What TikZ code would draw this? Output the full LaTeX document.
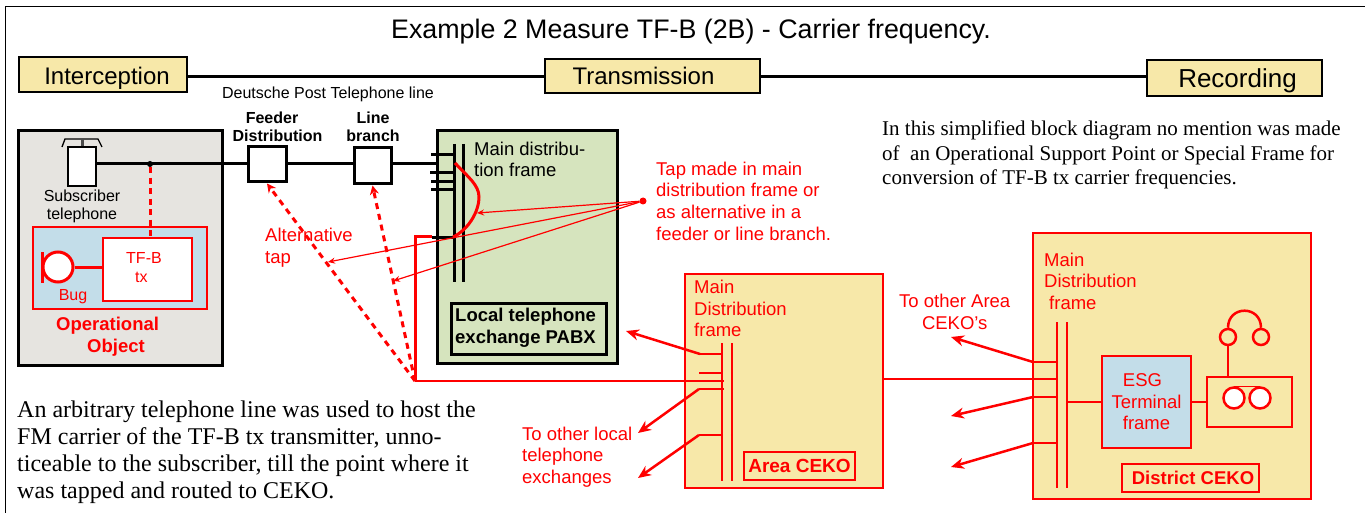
\documentclass[tikz,border=0pt]{standalone}
\usepackage{fontspec}
\setmainfont{Liberation Sans}
\newfontfamily\serifpara{Liberation Serif}
\usetikzlibrary{arrows.meta}
\definecolor{paleyellow}{HTML}{F7E8A9}
\definecolor{palegreen}{HTML}{D6E4BE}
\definecolor{palegray}{HTML}{E6E4E0}
\definecolor{paleblue}{HTML}{C3DDE9}
\tikzset{
	heading/.style={draw=black, line width=2.5pt, fill=paleyellow, inner sep=0pt, font=\fontsize{24}{28}\selectfont},
	blackbox/.style={draw=black, line width=3pt, inner sep=0pt},
	redbox/.style={draw=red, line width=2.5pt, inner sep=0pt},
	thinbox/.style={draw=red, line width=1.5pt, inner sep=0pt},
	label/.style={inner sep=0pt, align=left, anchor=west, font=\fontsize{18.5}{21.6}\selectfont},
	small/.style={inner sep=0pt, align=center, font=\fontsize{16}{18.5}\selectfont},
	boldlabel/.style={inner sep=0pt, align=left, font=\fontsize{18.5}{21.6}\selectfont\bfseries},
	wire/.style={line width=3pt},
	redwire/.style={draw=red, line width=2.5pt},
	bigarrow/.style={draw=red, line width=2.5pt, -{Stealth[length=13pt,width=11pt]}},
	thinarrow/.style={draw=red, line width=1.2pt, -{Stealth[length=7pt,width=6pt]}},
	dasharrow/.style={draw=red, line width=3pt, dashed, dash pattern=on 6pt off 5pt, -{Stealth[length=9pt,width=9pt]}},
}
\begin{document}
\begin{tikzpicture}[x=1pt,y=-1pt]
	\useasboundingbox (0,0) rectangle (1365,513);
	% Outer Frame %
	\draw [line width=1.5pt] (5.5,513) -- (5.5,6.5) -- (1365,6.5);
	\node (title) [inner sep=0pt, font=\fontsize{26.8}{31}\selectfont] at (691,32) {Example 2 Measure TF-B (2B) - Carrier frequency.};
	% Headings %
	\node (interception) [heading, minimum width=168, minimum height=35] at (103,74.5) {\rule{0pt}{24pt}\hspace*{8pt}Interception};
	\node (transmission) [heading, minimum width=215, minimum height=34] at (652.5,76) {Transmission\hspace*{18pt}};
	\node (recording) [heading, minimum width=175, minimum height=36, font=\fontsize{26}{30}\selectfont] at (1234.5,78) {\rule{0pt}{25pt}\hspace*{6pt}Recording};
	\coordinate (headline) at (0,77);
	\draw [wire] (interception.east |- headline) -- (transmission.west |- headline);
	\draw [wire] (transmission.east |- headline) -- (recording.west |- headline);
	\node (postline) [small] at (328,94) {Deutsche Post Telephone line};
	% Operational Object %
	\node (object) [blackbox, fill=palegray, minimum width=204, minimum height=234] at (120,248) {};
	\node (bugarea) [thinbox, fill=paleblue, minimum width=174, minimum height=82] at (120,268) {};
	\node (tfbtx) [thinbox, fill=white, minimum width=89, minimum height=63] at (147.5,269.5) {};
	\node (tfblabel) [small, align=left, text=red, anchor=west] at (126,267.5) {TF-B\\\hspace*{9pt}tx};
	\node (bug) [draw=red, line width=3pt, fill=white, circle, minimum size=30, inner sep=0pt] at (58,267) {};
	\draw [redwire, line width=3pt] (42,252) -- (42,283);
	\draw [redwire, line width=3pt] (bug) -- (tfbtx.west |- bug);
	\node (buglabel) [small, text=red] at (73,297) {Bug};
	\node (objectlabel) [boldlabel, text=red, anchor=west] at (56,337) {Operational\\\hspace*{31pt}Object};
	% Subscriber Telephone %
	\node (phone) [draw=black, line width=1.5pt, fill=white, minimum width=28, minimum height=39, inner sep=0pt] at (82,166.5) {};
	\draw [line width=1.3pt] (62,147) -- (65,139) -- (98,139) -- (102,147);
	\draw [line width=3pt, black!70] (82,139) -- (phone.north);
	\node (phonelabel) [small] at (82,206.5) {Subscriber\\telephone};
	% Telephone Line %
	\node (feeder) [blackbox, fill=white, minimum width=38, minimum height=35] at (267,164.5) {};
	\node (branch) [blackbox, fill=white, minimum width=37, minimum height=36] at (372.5,166) {};
	\node (feederlabel) [small, font=\fontsize{16}{18.5}\selectfont\bfseries] at (277.5,127) {Feeder\hspace*{11pt}\\Distribution};
	\node (branchlabel) [small, font=\fontsize{16}{18.5}\selectfont\bfseries] at (373,127) {Line\\branch};
	\coordinate (lineend) at (437,164);
	\draw [wire] (phone.east |- lineend) -- (feeder.west |- lineend);
	\draw [wire] (feeder.east |- lineend) -- (branch.west |- lineend);
	\draw [wire] (branch.east |- lineend) -- (lineend);
	\node (joint) [fill=black, circle, minimum size=6, inner sep=0pt] at (150,164) {};
	\draw [redwire, line width=3pt, dashed, dash pattern=on 6pt off 4.5pt] (joint) -- (tfbtx.north -| joint);
	% Local Exchange %
	\node (exchange) [blackbox, fill=palegreen, minimum width=180, minimum height=232] at (527,247) {};
	\draw [wire] (454,144) -- (454,282);
	\draw [wire] (463,144) -- (463,282);
	\draw [wire] (431,155) -- (454,155);
	\draw [wire] (430,173) -- (454,173);
	\draw [wire] (431,182) -- (454,182);
	\draw [wire] (431,190) -- (454,190);
	\draw [wire] (432,237) -- (454,237);
	\node (mdflocal) [label] at (474,159.5) {Main distribu-\\tion frame};
	\node (pabx) [blackbox, minimum width=155, minimum height=51] at (528.5,328.5) {};
	\node (pabxlabel) [boldlabel, anchor=west] at (455,328) {Local telephone\\exchange PABX};
	\draw [redwire, line width=3pt] (455,163) .. controls (468,177) and (479,185) .. (479,197) .. controls (479,212) and (468,230) .. (453,237);
	% Tap %
	\coordinate (tapsplit) at (415,381);
	\draw [redwire, line width=3pt] (tapsplit) -- (415,236) -- (432,236);
	\node (tapdot) [fill=red, circle, minimum size=7, inner sep=0pt] at (643,201) {};
	\coordinate (tapcurve) at (477,213);
	\coordinate (tapfeeder) at (328,262);
	\coordinate (tapbranch) at (393,281);
	\draw [thinarrow] (tapdot) -- (tapcurve);
	\draw [thinarrow] (tapdot) -- (tapfeeder);
	\draw [thinarrow] (tapdot) -- (tapbranch);
	\draw [dasharrow] (tapsplit) -- (feeder.south);
	\draw [dasharrow] (tapsplit) -- (branch.south);
	\node (taplabel) [label, text=red] at (656,201) {Tap made in main\\distribution frame or\\as alternative in a\\feeder or line branch.};
	\node (altlabel) [label, text=red] at (265,248) {Alternative\\tap};
	% Area CEKO %
	\node (area) [redbox, fill=paleyellow, minimum width=198, minimum height=214] at (784,381) {};
	\draw [redwire] (722,343) -- (722,481);
	\draw [redwire] (732,343) -- (732,481);
	\draw [redwire] (699,373) -- (722,373);
	\draw [redwire] (tapsplit) -- (724,381);
	\coordinate (areastuba) at (700,354);
	\coordinate (areastubb) at (699,389);
	\coordinate (areastubc) at (699,435);
	\draw [redwire] (areastuba) -- (722,354);
	\draw [redwire] (areastubb) -- (724,389);
	\draw [redwire] (areastubc) -- (722,435);
	\coordinate (toexchange) at (626,331);
	\coordinate (tolocala) at (638,433);
	\coordinate (tolocalb) at (638,478);
	\draw [bigarrow] (areastuba) -- (toexchange);
	\draw [bigarrow] (areastubb) -- (tolocala);
	\draw [bigarrow] (areastubc) -- (tolocalb);
	\node (mdfarea) [label, text=red] at (694,308.5) {Main\\Distribution\\frame};
	\node (arealabel) [redbox, minimum width=111, minimum height=28, text=red, font=\fontsize{19}{22}\selectfont\bfseries] at (799.5,466) {Area CEKO};
	\node (otherlocal) [label, text=red] at (522,457) {To other local\\telephone\\exchanges};
	% District CEKO %
	\node (district) [redbox, fill=paleyellow, minimum width=278, minimum height=266] at (1172,366) {};
	\coordinate (trunk) at (1057,379);
	\draw [redwire] (area.east |- trunk) -- (trunk);
	\draw [redwire] (1057,322) -- (1057,488);
	\draw [redwire] (1067,322) -- (1067,488);
	\coordinate (diststuba) at (1033,362);
	\coordinate (diststubb) at (1033,397);
	\coordinate (diststubc) at (1033,443);
	\draw [redwire] (diststuba) -- (1057,362);
	\draw [redwire] (diststubb) -- (1057,397);
	\draw [redwire] (diststubc) -- (1057,443);
	\coordinate (toareaa) at (951,337);
	\coordinate (toareab) at (951,416);
	\coordinate (toareac) at (951,467);
	\draw [bigarrow] (diststuba) -- (toareaa);
	\draw [bigarrow] (diststubb) -- (toareab);
	\draw [bigarrow] (diststubc) -- (toareac);
	\node (mdfdistrict) [label, text=red] at (1044,281) {Main\\Distribution\\\hspace*{5pt}frame};
	\node (otherarea) [label, text=red, align=center] at (899,312) {To other Area\\CEKO’s};
	\node (esg) [thinbox, fill=paleblue, minimum width=89, minimum height=92, text=red, align=center, font=\fontsize{18.5}{21.6}\selectfont] at (1146.5,402) {ESG\hspace*{8pt}\\Terminal\hspace*{6pt}\\frame};
	\node (recorder) [redbox, minimum width=85, minimum height=50] at (1249.5,402) {};
	\draw [redwire] (1067,402) -- (esg.west);
	\draw [redwire] (esg.east) -- (recorder.west);
	\node (spoola) [draw=red, line width=2.5pt, fill=white, circle, minimum size=21, inner sep=0pt] at (1234,398) {};
	\node (spoolb) [draw=red, line width=2.5pt, fill=white, circle, minimum size=21, inner sep=0pt] at (1260,398) {};
	\draw [redwire, line width=1.5pt] (spoola.north) -- (spoolb.north);
	\node (earleft) [draw=red, line width=2.5pt, circle, minimum size=16, inner sep=0pt] at (1228,337) {};
	\node (earright) [draw=red, line width=2.5pt, circle, minimum size=16, inner sep=0pt] at (1261,337) {};
	\draw [redwire] (earleft.north) .. controls (1228,305) and (1261,305) .. (earright.north);
	\draw [redwire] (earleft.south) -- (recorder.north -| earleft);
	\node (districtlabel) [redbox, minimum width=137, minimum height=28, text=red, font=\fontsize{18.5}{21}\selectfont\bfseries] at (1190.5,478) {\hspace*{5pt}District CEKO};
	% Notes %
	\node (noteright) [inner sep=0pt, align=left, anchor=west, font=\fontsize{21}{24.5}\selectfont\serifpara] at (882,155) {In this simplified block diagram no mention was made\\of \ an Operational Support Point or Special Frame for\\conversion of TF-B tx carrier frequencies.};
	\node (noteleft) [inner sep=0pt, align=left, anchor=west, font=\fontsize{24}{27}\selectfont\serifpara] at (17,452.5) {An arbitrary telephone line was used to host the\\FM carrier of the TF-B tx transmitter, unno-\\ticeable to the subscriber, till the point where it\\was tapped and routed to CEKO.};
\end{tikzpicture}
\end{document}
